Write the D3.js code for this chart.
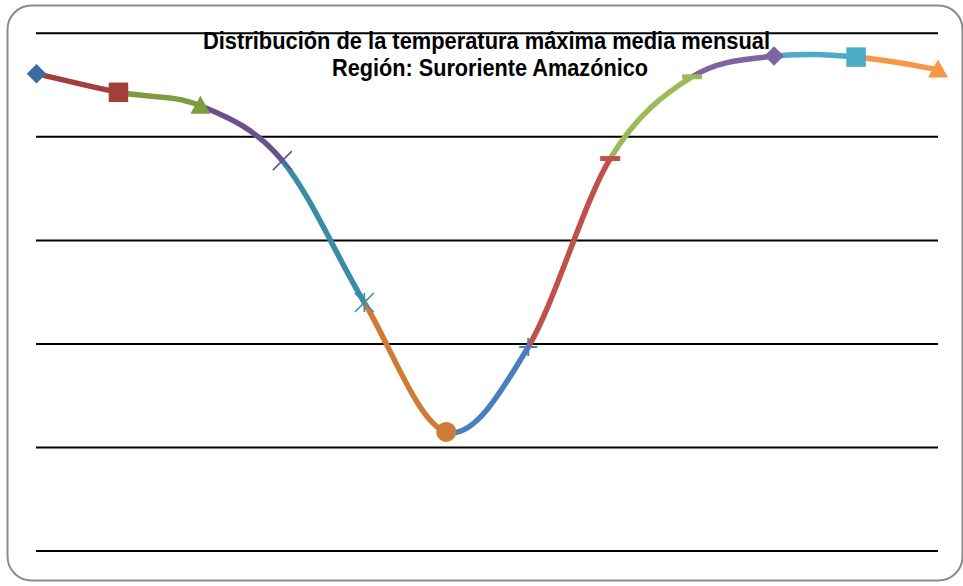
<!DOCTYPE html>
<html>
<head>
<meta charset="utf-8">
<script src="https://cdn.jsdelivr.net/npm/d3@7"></script>
<style>
  html, body { margin: 0; padding: 0; background: #fff; }
  svg { display: block; }
</style>
</head>
<body>
<svg id="chart" width="963" height="586"></svg>
<script>
const months = ["Ene", "Feb", "Mar", "Abr", "May", "Jun", "Jul", "Ago", "Sep", "Oct", "Nov", "Dic"];
const tmax = [33.61, 33.43, 33.30, 32.77, 31.40, 30.15, 30.97, 32.79, 33.58, 33.78, 33.77, 33.65];
const yTicks = [29, 30, 31, 32, 33, 34];
const pointColors = ["#3C6AA2", "#A33E3A", "#7E9B3F", "#6A518C", "#3A8DA6", "#CF7A35",
                     "#4A7EBF", "#C0504D", "#9BBB59", "#8064A2", "#4BACC6", "#F79646"];
const markerTypes = ["diamond", "square", "triangle", "x", "star", "circle",
                     "plus", "dash", "dash", "diamond", "square", "triangle"];
const titleLines = ["Distribución de la temperatura máxima media mensual",
                    "Región: Suroriente Amazónico"];

const svg = d3.select("#chart");

// frame
svg.append("rect")
  .attr("x", 7.5).attr("y", 5.5).attr("width", 955).attr("height", 575)
  .attr("rx", 24).attr("ry", 24)
  .attr("fill", "#fff").attr("stroke", "#8c8c8c").attr("stroke-width", 2);

const x = d3.scalePoint().domain(months).range([36.5, 938]);
const y = d3.scaleLinear().domain([29, 34]).range([551, 33.3]);

// gridlines
svg.append("g").selectAll("line").data(yTicks).join("line")
  .attr("x1", 36).attr("x2", 938)
  .attr("y1", d => y(d)).attr("y2", d => y(d))
  .attr("stroke", "#000").attr("stroke-width", 2);

// title
const title = svg.append("g")
  .attr("font-family", "'Liberation Sans', Arial, sans-serif")
  .attr("font-weight", "bold").attr("font-size", 23).attr("fill", "#000");
title.append("text").attr("x", 203).attr("y", 48.5)
  .attr("textLength", 567).attr("lengthAdjust", "spacingAndGlyphs").text(titleLines[0]);
title.append("text").attr("x", 332).attr("y", 75.5)
  .attr("textLength", 316).attr("lengthAdjust", "spacingAndGlyphs").text(titleLines[1]);

// smoothed segments, each coloured like its end point
const pts = months.map((m, i) => [x(m), y(tmax[i])]);
const n = pts.length;
const segs = d3.range(n - 1).map(i => {
  const p0 = pts[Math.max(0, i - 1)], p1 = pts[i], p2 = pts[i + 1], p3 = pts[Math.min(n - 1, i + 2)];
  const c1 = [p1[0] + (p2[0] - p0[0]) / 6, p1[1] + (p2[1] - p0[1]) / 6];
  const c2 = [p2[0] - (p3[0] - p1[0]) / 6, p2[1] - (p3[1] - p1[1]) / 6];
  const p = d3.path();
  p.moveTo(p1[0], p1[1]);
  p.bezierCurveTo(c1[0], c1[1], c2[0], c2[1], p2[0], p2[1]);
  return { d: p.toString(), color: pointColors[i + 1] };
});
svg.append("g").selectAll("path").data(segs).join("path")
  .attr("d", d => d.d).attr("fill", "none")
  .attr("stroke", d => d.color).attr("stroke-width", 5.5).attr("stroke-linecap", "butt");

// markers
const mg = svg.append("g");
months.forEach((m, i) => {
  const cx = x(m), cy = y(tmax[i]), c = pointColors[i], t = markerTypes[i];
  const g = mg.append("g").attr("transform", `translate(${cx},${cy})`);
  if (t === "diamond") {
    g.append("path").attr("d", d3.symbol(d3.symbolSquare, 190)()).attr("transform", "rotate(45)").attr("fill", c);
  } else if (t === "square") {
    g.append("path").attr("d", d3.symbol(d3.symbolSquare, 380)()).attr("fill", c);
  } else if (t === "triangle") {
    g.append("path").attr("d", "M0,-10L10,8L-10,8Z").attr("fill", c);
  } else if (t === "circle") {
    g.append("circle").attr("r", 10).attr("fill", c);
  } else if (t === "x" || t === "star") {
    g.append("path").attr("d", "M-9.5,-9.5L9.5,9.5M-9.5,9.5L9.5,-9.5" + (t === "star" ? "M0,-9.5L0,9.5" : ""))
      .attr("stroke", c).attr("stroke-width", 1.6).attr("fill", "none");
  } else if (t === "plus") {
    g.append("path").attr("d", "M-9,0L9,0M0,-9L0,9").attr("stroke", c).attr("stroke-width", 2).attr("fill", "none");
  } else if (t === "dash") {
    g.append("rect").attr("x", -10).attr("y", -2.5).attr("width", 20).attr("height", 5).attr("fill", c);
  }
});
</script>
</body>
</html>
